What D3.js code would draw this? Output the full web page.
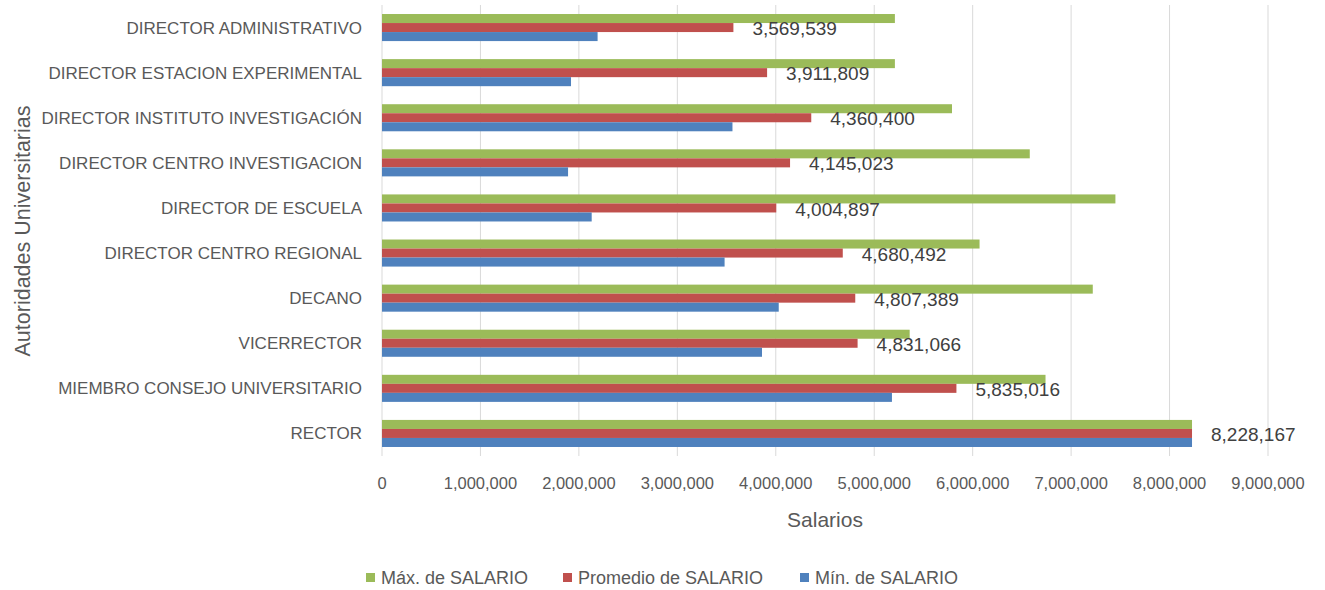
<!DOCTYPE html>
<html>
<head>
<meta charset="utf-8">
<script src="https://cdn.jsdelivr.net/npm/d3@7"></script>
<style>
  body { margin: 0; background: #fff; }
  svg text { font-family: "Liberation Sans", "DejaVu Sans", sans-serif; fill: #595959; }
</style>
</head>
<body>
<svg id="chart" width="1325" height="590"></svg>
<script>
// Categories, top to bottom
const categories = [
  "DIRECTOR ADMINISTRATIVO",
  "DIRECTOR ESTACION EXPERIMENTAL",
  "DIRECTOR INSTITUTO INVESTIGACIÓN",
  "DIRECTOR CENTRO INVESTIGACION",
  "DIRECTOR DE ESCUELA",
  "DIRECTOR CENTRO REGIONAL",
  "DECANO",
  "VICERRECTOR",
  "MIEMBRO CONSEJO UNIVERSITARIO",
  "RECTOR"
];

// Series values (same order as categories)
const maxSalario = [5210000, 5210000, 5790000, 6580000, 7450000, 6070000, 7220000, 5360000, 6740000, 8228167];
const avgSalario = [3569539, 3911809, 4360400, 4145023, 4004897, 4680492, 4807389, 4831066, 5835016, 8228167];
const minSalario = [2190000, 1920000, 3560000, 1890000, 2130000, 3480000, 4030000, 3860000, 5180000, 8228167];

const seriesNames = ["Máx. de SALARIO", "Promedio de SALARIO", "Mín. de SALARIO"];
const seriesColors = ["#9BBB59", "#C0504D", "#4F81BD"];
const xTicks = [0, 1000000, 2000000, 3000000, 4000000, 5000000, 6000000, 7000000, 8000000, 9000000];

const rows = categories.map((c, i) => ({
  cat: c,
  vals: [maxSalario[i], avgSalario[i], minSalario[i]]
}));

const svg = d3.select("#chart");
const plot = { left: 382, right: 1268, top: 5, bottom: 456 };

const x = d3.scaleLinear().domain([0, 9000000]).range([plot.left, plot.right]);
const y = d3.scaleBand().domain(categories).range([plot.top, plot.bottom])
  .paddingInner(0.4).paddingOuter(0.2);
const ySub = d3.scaleBand().domain([0, 1, 2]).range([0, y.bandwidth()]);

// Gridlines
svg.append("g")
  .selectAll("line")
  .data(xTicks)
  .join("line")
    .attr("x1", d => x(d)).attr("x2", d => x(d))
    .attr("y1", plot.top).attr("y2", plot.bottom)
    .attr("stroke", "#d9d9d9")
    .attr("stroke-width", 1);

// Bars
const groups = svg.append("g")
  .selectAll("g")
  .data(rows)
  .join("g")
    .attr("transform", d => `translate(0,${y(d.cat)})`);

groups.selectAll("rect")
  .data(d => d.vals.map((v, k) => ({ v, k })))
  .join("rect")
    .attr("x", x(0))
    .attr("y", d => ySub(d.k))
    .attr("width", d => x(d.v) - x(0))
    .attr("height", ySub.bandwidth())
    .attr("fill", d => seriesColors[d.k]);

// Data labels for the average
groups.append("text")
  .attr("x", d => x(d.vals[1]) + 19)
  .attr("y", ySub(1) + ySub.bandwidth() / 2 + 1)
  .attr("dy", "0.35em")
  .style("font-size", "19px")
  .style("fill", "#404040")
  .text(d => d3.format(",")(d.vals[1]));

// Category labels
svg.append("g")
  .selectAll("text")
  .data(categories)
  .join("text")
    .attr("x", plot.left - 20)
    .attr("y", d => y(d) + y.bandwidth() / 2)
    .attr("dy", "0.35em")
    .attr("text-anchor", "end")
    .style("font-size", "17px")
    .text(d => d);

// X tick labels
svg.append("g")
  .selectAll("text")
  .data(xTicks)
  .join("text")
    .attr("x", d => x(d))
    .attr("y", 483)
    .attr("dy", "0.35em")
    .attr("text-anchor", "middle")
    .style("font-size", "16.5px")
    .text(d => d3.format(",")(d));

// Axis titles
svg.append("text")
  .attr("x", 825).attr("y", 520)
  .attr("dy", "0.35em")
  .attr("text-anchor", "middle")
  .style("font-size", "21px")
  .text("Salarios");

svg.append("text")
  .attr("transform", "translate(22,231) rotate(-90)")
  .attr("dy", "0.35em")
  .attr("text-anchor", "middle")
  .style("font-size", "21.5px")
  .text("Autoridades Universitarias");

// Legend
const legendX = [366, 563, 800];
const legend = svg.append("g")
  .selectAll("g")
  .data(seriesNames)
  .join("g")
    .attr("transform", (d, i) => `translate(${legendX[i]},578)`);
legend.append("rect")
  .attr("x", 0).attr("y", -5)
  .attr("width", 9).attr("height", 9)
  .attr("fill", (d, i) => seriesColors[i]);
legend.append("text")
  .attr("x", 15)
  .attr("dy", "0.35em")
  .style("font-size", "18px")
  .text(d => d);
</script>
</body>
</html>
